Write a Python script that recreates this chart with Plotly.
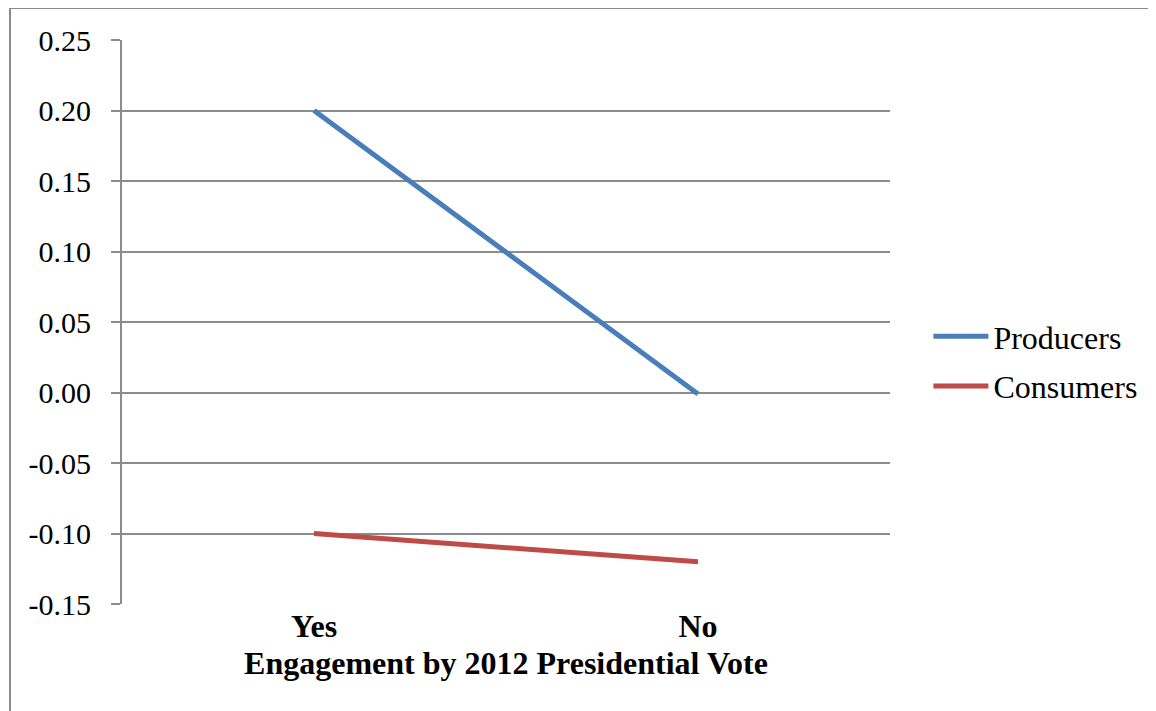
import plotly.graph_objects as go

categories = ["Yes", "No"]
producers = [0.20, -0.001]
consumers = [-0.10, -0.12]
y_ticks = [0.25, 0.20, 0.15, 0.10, 0.05, 0.00, -0.05, -0.10, -0.15]
y_tick_labels = ["0.25", "0.20", "0.15", "0.10", "0.05", "0.00", "-0.05", "-0.10", "-0.15"]

FONT = "Liberation Serif"
GRID = "#8c8c8c"

fig = go.Figure()
fig.add_trace(go.Scatter(x=categories, y=producers, mode="lines", name="Producers",
                         legendgroup="p", line=dict(color="#4A7EBB", width=5)))
fig.add_trace(go.Scatter(x=categories, y=consumers, mode="lines", name="Consumers",
                         legendgroup="c", line=dict(color="#BE4B48", width=5)))

fig.update_layout(
    width=1156, height=711,
    margin=dict(l=114, r=274, t=32, b=115),
    paper_bgcolor="white", plot_bgcolor="white",
    font=dict(family=FONT, size=32, color="black"),
    showlegend=True,
    legend=dict(x=1.05, y=0.43, xanchor="left", yanchor="middle",
                font=dict(family=FONT, size=32), tracegroupgap=5,
                itemwidth=55, bgcolor="rgba(0,0,0,0)"),
    xaxis=dict(type="category", range=[-0.5, 1.5], showgrid=False,
               showline=False, ticks="", zeroline=False,
               tickfont=dict(family=FONT, size=32, weight="bold"),
               title=dict(text="<b>Engagement by 2012 Presidential Vote</b>",
                          font=dict(family=FONT, size=32), standoff=8)),
    yaxis=dict(range=[-0.15, 0.25], tickvals=y_ticks, ticktext=y_tick_labels,
               showgrid=True, gridcolor=GRID, gridwidth=2,
               showline=True, linecolor=GRID, linewidth=2,
               ticks="outside", ticklen=9, tickcolor=GRID, tickwidth=2,
               zeroline=False, ticklabelstandoff=14,
               tickfont=dict(family=FONT, size=30)),
)

# outer chart frame (only top and left edges visible in the window)
fig.add_shape(type="rect", xref="paper", yref="paper",
              x0=(10 - 122) / 768, x1=3, y0=-3, y1=(604 - 8) / 564,
              line=dict(color="#8a8a8a", width=2), fillcolor="rgba(0,0,0,0)", layer="below")

fig.write_html("out.html")
